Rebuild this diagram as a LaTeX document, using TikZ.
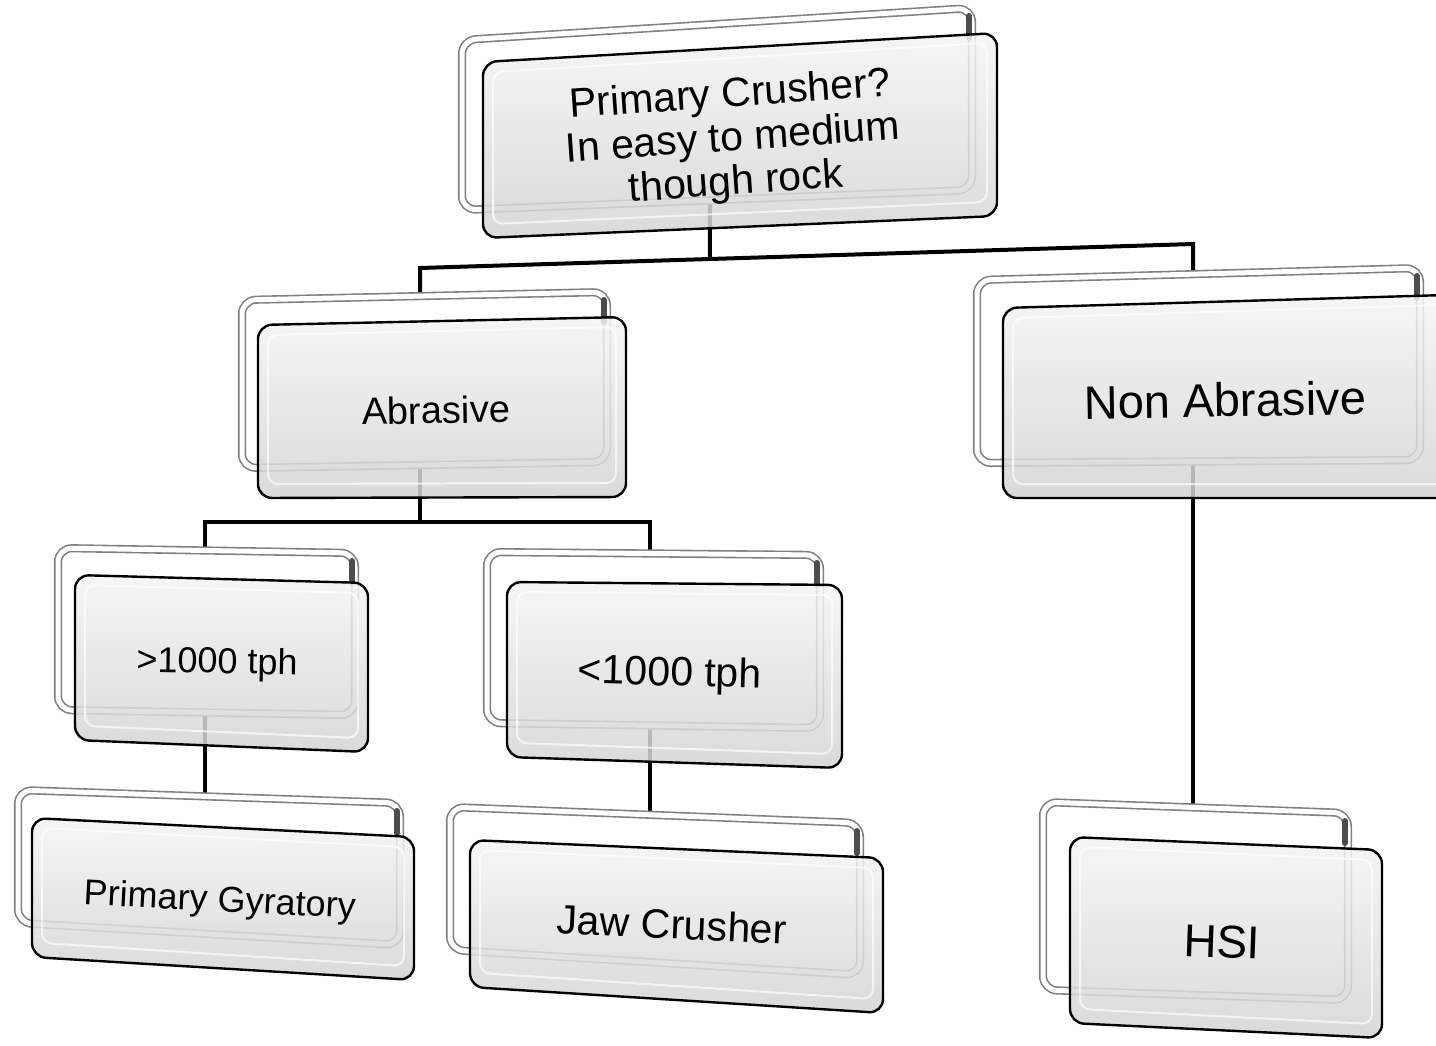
\documentclass[tikz,border=0pt]{standalone}
\usepackage{fontspec}
\setmainfont{Liberation Sans}
\usetikzlibrary{calc}
\tikzstyle{backcard}=[draw=black!50, double=white, double distance=2.5pt, line width=0.8pt, fill=white, rounded corners=7pt]
\tikzstyle{backedge}=[draw=black!70, line width=3pt, line cap=round]
\tikzstyle{frontcard}=[draw=black, line width=1.2pt, top color=black!4, bottom color=black!17, fill opacity=0.85, rounded corners=7pt]
\tikzstyle{glint}=[draw=white, line width=1pt, opacity=0.7, rounded corners=5pt]
\tikzstyle{link}=[draw, line width=2pt]
\tikzstyle{cardtext}=[align=center, inner sep=0pt]

% front corners tl/tr/br/bl, then back corners tl/tr/br/bl
\newcommand{\cardpair}[8]{%
  \path[backcard] #5 -- #6 -- #7 -- #8 -- cycle;
  \draw[backedge] ($#6+(-3,8)$) -- ($#6+(-3,30)$);
  \path[frontcard] #1 -- #2 -- #3 -- #4 -- cycle;
  \draw[glint] ($#1+(10,10)$) -- ($#2+(-10,10)$) -- ($#3+(-10,-14)$) -- ($#4+(10,-14)$) -- cycle;
}

\begin{document}
\begin{tikzpicture}[x=0.5pt,y=-0.5pt]
   \path[use as bounding box, clip] (0,0) rectangle (1436,1045);

   % joints of the tree
   \coordinate (top-out) at (710,150);
   \coordinate (abr-up) at (420,268);
   \coordinate (abr-in) at (420,296);
   \coordinate (non-up) at (1193,244);
   \coordinate (non-in) at (1193,273);
   \coordinate (abr-out) at (420,420);
   \coordinate (fork2) at (420,522);
   \coordinate (gone-up) at (205,522);
   \coordinate (gone-in) at (205,550);
   \coordinate (gtwo-up) at (650,522);
   \coordinate (gtwo-in) at (650,554);
   \coordinate (gone-out) at (205,680);
   \coordinate (pg-in) at (205,794);
   \coordinate (gtwo-out) at (650,690);
   \coordinate (jaw-in) at (650,813);
   \coordinate (non-out) at (1193,420);
   \coordinate (hsi-in) at (1193,806);

   % connectors, under the cards
   \draw[link] (top-out) -- ($(abr-up)!0.375!(non-up)$);
   \draw[link] (abr-in) -- (abr-up) -- (non-up) -- (non-in);
   \draw[link] (abr-out) -- (fork2);
   \draw[link] (gone-in) -- (gone-up) -- (gtwo-up) -- (gtwo-in);
   \draw[link] (gone-out) -- (pg-in);
   \draw[link] (gtwo-out) -- (jaw-in);
   \draw[link] (non-out) -- (hsi-in);

   % the cards
   \cardpair{(483,62)}{(997,33)}{(997,216)}{(483,238)}{(462,40)}{(972,8)}{(972,190)}{(462,210)}
   \cardpair{(258,325)}{(626,317)}{(626,497)}{(258,498)}{(242,300)}{(607,292)}{(607,462)}{(242,468)}
   \cardpair{(1003,308)}{(1480,294)}{(1480,498)}{(1003,498)}{(977,280)}{(1420,268)}{(1420,460)}{(977,463)}
   \cardpair{(75,575)}{(368,583)}{(368,752)}{(75,740)}{(58,548)}{(355,553)}{(355,715)}{(58,710)}
   \cardpair{(507,582)}{(842,585)}{(842,768)}{(507,757)}{(487,552)}{(820,555)}{(820,728)}{(487,723)}
   \cardpair{(32,818)}{(414,837)}{(414,980)}{(32,957)}{(18,790)}{(400,803)}{(400,945)}{(18,923)}
   \cardpair{(470,840)}{(883,858)}{(883,1013)}{(470,987)}{(450,807)}{(860,823)}{(860,975)}{(450,950)}
   \cardpair{(1070,837)}{(1382,850)}{(1382,1038)}{(1070,1023)}{(1043,802)}{(1348,813)}{(1348,1000)}{(1043,990)}

   % labels
   \node[cardtext, rotate=4, font={\fontsize{20.5}{22}\selectfont}] (top) at (733,140) {Primary Crusher?\\In easy to medium\\though rock};
   \node[cardtext, rotate=1, font={\fontsize{19}{22}\selectfont}] (abr) at (436,410) {Abrasive};
   \node[cardtext, rotate=1, font={\fontsize{23.5}{26}\selectfont}] (non) at (1225,400) {Non Abrasive};
   \node[cardtext, rotate=-1, font={\fontsize{18}{21}\selectfont}] (gone) at (217,664) {>1000 tph};
   \node[cardtext, rotate=-1.5, font={\fontsize{20.5}{23}\selectfont}] (gtwo) at (670,675) {<1000 tph};
   \node[cardtext, rotate=-3, font={\fontsize{18}{21}\selectfont}] (pg) at (220,902) {Primary Gyratory};
   \node[cardtext, rotate=-2.5, font={\fontsize{20.5}{23}\selectfont}] (jaw) at (672,924) {Jaw Crusher};
   \node[cardtext, rotate=-2, font={\fontsize{23}{26}\selectfont}] (hsi) at (1222,942) {HSI};

\end{tikzpicture}
\end{document}
